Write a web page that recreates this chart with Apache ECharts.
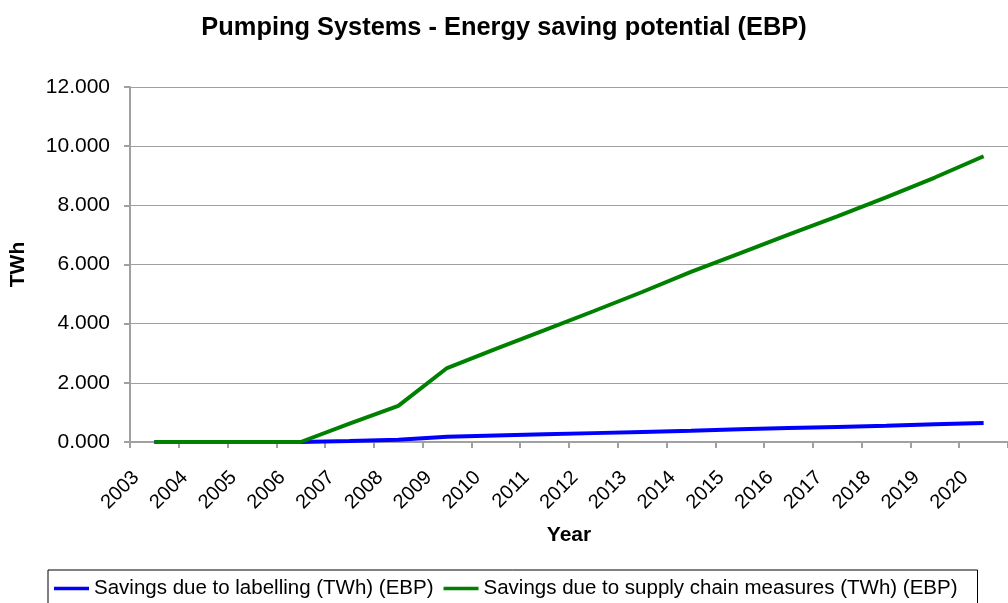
<!DOCTYPE html>
<html>
<head>
<meta charset="utf-8">
<script src="https://cdn.jsdelivr.net/npm/echarts@6/dist/echarts.min.js"></script>
<style>html,body{margin:0;padding:0;background:#fff}#c{width:1008px;height:603px}</style>
</head>
<body>
<div id="c"></div>
<script>
const years = ['2003','2004','2005','2006','2007','2008','2009','2010','2011','2012','2013','2014','2015','2016','2017','2018','2019','2020'];
const labelling = [0,0,0,0,0.03,0.08,0.18,0.22,0.26,0.30,0.34,0.38,0.43,0.47,0.51,0.55,0.60,0.64];
const supplyChain = [0,0,0,0,0.62,1.22,2.50,3.15,3.78,4.42,5.07,5.75,6.38,7.01,7.63,8.27,8.94,9.66];
const seriesNames = ['Savings due to labelling (TWh) (EBP)','Savings due to supply chain measures (TWh) (EBP)'];

const chart = echarts.init(document.getElementById('c'));
const font = 'Liberation Sans, Arial, sans-serif';
chart.setOption({
  animation: false,
  backgroundColor: '#fff',
  textStyle: {fontFamily: font},
  title: {
    text: 'Pumping Systems - Energy saving potential (EBP)',
    left: 'center', top: 10,
    textStyle: {fontFamily: font, fontSize: 25.4, fontWeight: 'bold', color: '#000'}
  },
  legend: {
    left: 48, top: 570,
    borderColor: '#000', borderWidth: 1,
    padding: [8, 20, 12, 6],
    itemWidth: 35, itemHeight: 3.5, itemGap: 10,
    icon: 'rect',
    textStyle: {fontFamily: font, fontSize: 20.5, color: '#000'},
    data: seriesNames
  },
  grid: {left: 126, right: -4, top: 87, bottom: 161},
  xAxis: {
    type: 'category',
    data: years,
    boundaryGap: true,
    name: 'Year', nameLocation: 'middle', nameGap: 83,
    nameTextStyle: {fontFamily: font, fontSize: 21, fontWeight: 'bold', color: '#000'},
    axisLine: {lineStyle: {color: '#a0a0a0', width: 2}},
    axisTick: {show: true, interval: 0, length: 6, lineStyle: {color: '#a0a0a0', width: 2}},
    axisLabel: {interval: 0, rotate: 45, fontSize: 20, color: '#000', margin: 14, padding: [0, 26, 0, 0], fontFamily: font}
  },
  yAxis: {
    type: 'value', min: 0, max: 12, interval: 2,
    name: 'TWh', nameLocation: 'middle', nameGap: 101, nameRotate: 90,
    nameTextStyle: {fontFamily: font, fontSize: 21, fontWeight: 'bold', color: '#000'},
    axisLine: {show: true, lineStyle: {color: '#a0a0a0', width: 2}},
    axisTick: {show: true, length: 6, lineStyle: {color: '#a0a0a0', width: 2}},
    axisLabel: {fontSize: 21, color: '#000', margin: 20, fontFamily: font, formatter: v => v.toFixed(3)},
    splitLine: {lineStyle: {color: '#a0a0a0', width: 1}}
  },
  series: [
    {name: seriesNames[0], type: 'line', data: labelling, symbol: 'none', color: '#0000ff', lineStyle: {width: 4, color: '#0000ff'}, z: 2},
    {name: seriesNames[1], type: 'line', data: supplyChain, symbol: 'none', color: '#008000', lineStyle: {width: 4, color: '#008000'}, z: 3}
  ]
});
</script>
</body>
</html>
